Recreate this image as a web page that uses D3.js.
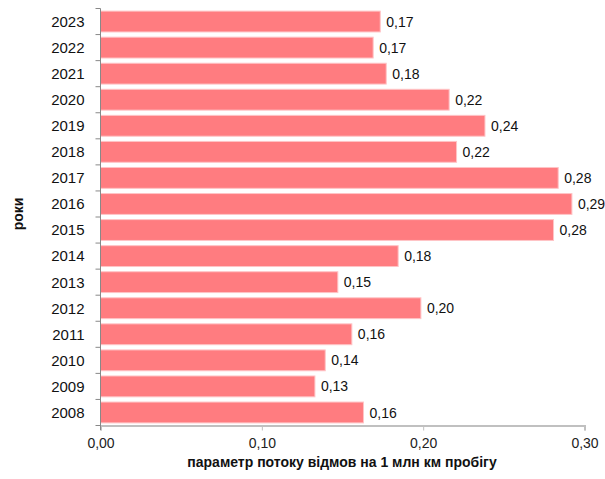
<!DOCTYPE html>
<html>
<head>
<meta charset="utf-8">
<script src="https://cdn.jsdelivr.net/npm/d3@7"></script>
<style>
  html, body { margin: 0; padding: 0; background: #fff; }
  svg { display: block; }
</style>
</head>
<body>
<svg id="chart" width="605" height="479"></svg>
<script>
// Failure flow parameter per 1 million km of run, by year
const years = ["2023","2022","2021","2020","2019","2018","2017","2016","2015","2014","2013","2012","2011","2010","2009","2008"];
const values = [0.1734,0.1690,0.1771,0.2161,0.2383,0.2207,0.2837,0.2922,0.2808,0.1845,0.1471,0.1986,0.1558,0.1393,0.1329,0.1630];
const xTicks = [0, 0.10, 0.20, 0.30];
const xTitle = "параметр потоку відмов на 1 млн км пробігу";
const yTitle = "роки";

const svg = d3.select("#chart");
const fmt = v => d3.format(".2f")(v).replace(".", ",");

const x = d3.scaleLinear().domain([0, 0.30]).range([100.5, 584.5]);
const y = d3.scaleBand().domain(years).range([8.5, 425.5]).paddingInner(0.2).paddingOuter(0.1);

// bars
svg.append("g").selectAll("rect")
  .data(years.map((yr, i) => ({ yr, v: values[i] })))
  .join("rect")
  .attr("x", x(0))
  .attr("y", d => y(d.yr))
  .attr("width", d => x(d.v) - x(0))
  .attr("height", y.bandwidth())
  .attr("fill", "#ff7c80")
  .attr("stroke", "#ffc4c6")
  .attr("stroke-width", 1);

// value labels
svg.append("g").selectAll("text")
  .data(years.map((yr, i) => ({ yr, v: values[i] })))
  .join("text")
  .attr("x", d => x(d.v) + 6)
  .attr("y", d => y(d.yr) + y.bandwidth() / 2)
  .attr("dy", "0.36em")
  .attr("font-family", "Liberation Sans, Arial, sans-serif")
  .attr("font-size", 14)
  .attr("fill", "#111")
  .text(d => fmt(d.v));

// x axis
const xAxis = svg.append("g")
  .attr("transform", "translate(0,425.5)")
  .call(d3.axisBottom(x).tickValues(xTicks).tickFormat(fmt).tickSize(5).tickPadding(8));
xAxis.select(".domain").attr("stroke", "#c0c0c0").attr("stroke-width", 2);
xAxis.selectAll(".tick line").attr("stroke", "#c0c0c0");
xAxis.selectAll(".tick text")
  .attr("font-family", "Liberation Sans, Arial, sans-serif")
  .attr("font-size", 14)
  .attr("fill", "#222");

// y axis: ticks sit on the category boundaries
const yAxisG = svg.append("g").attr("transform", "translate(100.5,0)");
const bounds = years.map(yr => y(yr) - y.step() * y.paddingInner() / 2);
bounds.push(425.5);
yAxisG.append("line")
  .attr("x1", 0).attr("x2", 0)
  .attr("y1", 8.5).attr("y2", 430)
  .attr("stroke", "#888").attr("stroke-width", 1);
yAxisG.selectAll("line.tk")
  .data(bounds)
  .join("line")
  .attr("class", "tk")
  .attr("x1", -5).attr("x2", 0)
  .attr("y1", d => d).attr("y2", d => d)
  .attr("stroke", "#888");
yAxisG.selectAll("text")
  .data(years)
  .join("text")
  .attr("x", -16)
  .attr("y", d => y(d) + y.bandwidth() / 2)
  .attr("dy", "0.36em")
  .attr("text-anchor", "end")
  .attr("font-family", "Liberation Sans, Arial, sans-serif")
  .attr("font-size", 15)
  .attr("fill", "#111")
  .text(d => d);

// axis titles
svg.append("text")
  .attr("x", 342)
  .attr("y", 467)
  .attr("text-anchor", "middle")
  .attr("font-family", "Liberation Sans, Arial, sans-serif")
  .attr("font-weight", "bold")
  .attr("font-size", 14)
  .attr("fill", "#111")
  .text(xTitle);

svg.append("text")
  .attr("transform", "translate(23,214) rotate(-90)")
  .attr("text-anchor", "middle")
  .attr("font-family", "Liberation Sans, Arial, sans-serif")
  .attr("font-weight", "bold")
  .attr("font-size", 14)
  .attr("fill", "#111")
  .text(yTitle);
</script>
</body>
</html>
